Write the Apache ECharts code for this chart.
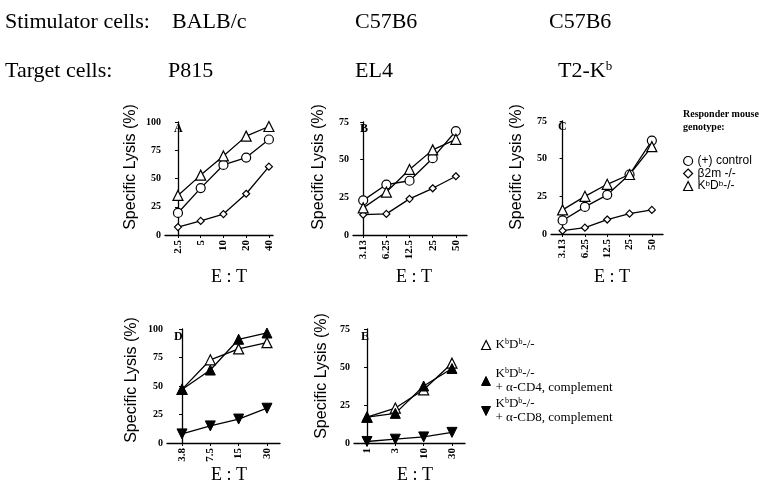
<!DOCTYPE html>
<html>
<head>
<meta charset="utf-8">
<script src="https://cdn.jsdelivr.net/npm/echarts@6/dist/echarts.min.js"></script>
<style>html,body{margin:0;padding:0;background:#fff}#c{width:759px;height:488px}</style>
</head>
<body>
<div id="c"></div>
<script>
// ---- data ----
const catsA = ['2.5', '5', '10', '20', '40'];
const ctrlA = [19.5, 41.5, 62, 68.5, 84.5];
const b2mA  = [7, 12.5, 18.5, 36.5, 60.5];
const kbdbA = [35, 53, 70, 87.5, 96];

const catsB = ['3.13', '6.25', '12.5', '25', '50'];
const ctrlB = [23, 33.5, 36, 51, 69];
const b2mB  = [13.5, 14, 24, 31, 39];
const kbdbB = [18, 28.5, 43.5, 56.5, 63.5];

const catsC = ['3.13', '6.25', '12.5', '25', '50'];
const ctrlC = [9, 18, 26, 39.5, 62];
const b2mC  = [2.2, 4.2, 9.6, 13.5, 16];
const kbdbC = [16, 25, 33, 39.5, 58];

const catsD = ['3.8', '7.5', '15', '30'];
const kbdbD = [47, 73, 82.5, 88];
const cd4D  = [47, 64, 91, 96.5];
const cd8D  = [8, 15, 21, 30.5];

const catsE = ['1', '3', '10', '30'];
const kbdbE = [17, 23, 35, 52.5];
const cd4E  = [17, 19.5, 37.5, 49];
const cd8E  = [1, 2.5, 4, 7];

const panelLetters = ['A', 'B', 'C', 'D', 'E'];

const NAME_CTRL = '(+) control';
const NAME_B2M = 'β2m -/-';
const NAME_KBDB = 'KbDb-/-';
const NAME_CD4 = 'KbDb-/-\n+ α-CD4, complement';
const NAME_CD8 = 'KbDb-/-\n+ α-CD8, complement';

// ---- layout (positions only) ----
const SERIF = "'Liberation Serif','Times New Roman',serif";
const SANS = "'Liberation Sans',Arial,sans-serif";
const layout = [
  {left: 165, top: 122, width: 108, height: 113, xmin: -0.57, xmax: 4.18, ymax: 100},
  {left: 353, top: 122, width: 114, height: 113, xmin: -0.44, xmax: 4.48, ymax: 75},
  {left: 551, top: 121, width: 112, height: 113, xmin: -0.52, xmax: 4.5, ymax: 75},
  {left: 167, top: 329, width: 113, height: 114, xmin: -0.53, xmax: 3.46, ymax: 100},
  {left: 354, top: 329, width: 111, height: 114, xmin: -0.46, xmax: 3.46, ymax: 75}
];
const panelCats = [catsA, catsB, catsC, catsD, catsE];
const panelSeries = [
  [[NAME_CTRL, ctrlA, 'ctrl'], [NAME_B2M, b2mA, 'b2m'], [NAME_KBDB, kbdbA, 'kbdb']],
  [[NAME_CTRL, ctrlB, 'ctrl'], [NAME_B2M, b2mB, 'b2m'], [NAME_KBDB, kbdbB, 'kbdb']],
  [[NAME_CTRL, ctrlC, 'ctrl'], [NAME_B2M, b2mC, 'b2m'], [NAME_KBDB, kbdbC, 'kbdb']],
  [[NAME_KBDB, kbdbD, 'kbdb'], [NAME_CD4, cd4D, 'cd4'], [NAME_CD8, cd8D, 'cd8']],
  [[NAME_KBDB, kbdbE, 'kbdb'], [NAME_CD4, cd4E, 'cd4'], [NAME_CD8, cd8E, 'cd8']]
];

const openStyle = {color: '#fff', borderColor: '#000', borderWidth: 1.2};
const fillStyle = {color: '#000', borderColor: '#000', borderWidth: 1};
const symbolDefs = {
  ctrl: {symbol: 'circle', symbolSize: 9, itemStyle: openStyle},
  b2m: {symbol: 'diamond', symbolSize: [7, 7], itemStyle: openStyle},
  kbdb: {symbol: 'triangle', symbolSize: 10, itemStyle: openStyle},
  cd4: {symbol: 'triangle', symbolSize: 10, itemStyle: fillStyle},
  cd8: {symbol: 'triangle', symbolSize: 10, symbolRotate: 180, itemStyle: fillStyle}
};

const grids = [], xAxes = [], yAxes = [], series = [];
layout.forEach((L, i) => {
  const cats = panelCats[i];
  const idx = cats.map((c, k) => k);
  grids.push({left: L.left, top: L.top, width: L.width, height: L.height, containLabel: false});
  xAxes.push({
    gridIndex: i, type: 'value', min: L.xmin, max: L.xmax,
    axisLine: {show: true, onZero: false, lineStyle: {color: '#000', width: 1.3}},
    axisTick: {show: true, length: 3, customValues: idx, lineStyle: {color: '#000', width: 1}},
    axisLabel: {customValues: idx, formatter: v => cats[Math.round(v)], rotate: 90, margin: 5,
      fontFamily: SERIF, fontWeight: 'bold', fontSize: 11, color: '#000'},
    splitLine: {show: false}
  });
  yAxes.push({
    gridIndex: i, type: 'value', min: 0, max: L.ymax, interval: 25,
    axisLine: {show: true, lineStyle: {color: '#000', width: 1.3}},
    axisTick: {show: true, length: 3, lineStyle: {color: '#000', width: 1}},
    axisLabel: {margin: 4, fontFamily: SERIF, fontWeight: 'bold', fontSize: 10, color: '#000'},
    splitLine: {show: false}
  });
  panelSeries[i].forEach(([name, vals, kind]) => {
    const s = symbolDefs[kind];
    series.push(Object.assign({
      type: 'line', name: name, xAxisIndex: i, yAxisIndex: i,
      data: vals.map((v, k) => [k, v]),
      lineStyle: {color: '#000', width: 1.3},
      showSymbol: true, animation: false, z: 3
    }, s));
  });
});

const supRich = {
  n: {fontFamily: SERIF, fontSize: 13, color: '#000', lineHeight: 14},
  s: {fontFamily: SERIF, fontSize: 8, color: '#000', lineHeight: 14, verticalAlign: 'top'},
  ns: {fontFamily: SANS, fontSize: 12, color: '#000', lineHeight: 12},
  ss: {fontFamily: SANS, fontSize: 8, color: '#000', lineHeight: 12, verticalAlign: 'top'}
};
function kbdbRich(n, s) { return '{' + n + '|K}{' + s + '|b}{' + n + '|D}{' + s + '|b}{' + n + '|-/-}'; }
function fmtTop(name) {
  if (name === NAME_KBDB) return kbdbRich('ns', 'ss');
  return '{ns|' + name + '}';
}
function fmtBottom(name) {
  const parts = name.split('\n');
  let out = kbdbRich('n', 's');
  if (parts.length > 1) out += '\n{n|' + parts[1] + '}';
  return out;
}
const downTri = 'path://M0,0 L10,0 L5,10 Z';
const legendBase = {orient: 'vertical', selectedMode: false, itemWidth: 9, itemHeight: 9, padding: 0};
const legends = [
  Object.assign({}, legendBase, {
    left: 683, top: 155, itemGap: 0.5,
    formatter: fmtTop, textStyle: {rich: supRich, lineHeight: 12},
    data: [
      {name: NAME_CTRL, icon: 'circle', itemStyle: openStyle},
      {name: NAME_B2M, icon: 'diamond', itemStyle: openStyle},
      {name: NAME_KBDB, icon: 'triangle', itemStyle: openStyle}
    ]
  }),
  Object.assign({}, legendBase, {
    left: 481, top: 338, formatter: fmtBottom, textStyle: {rich: supRich},
    data: [{name: NAME_KBDB, icon: 'triangle', itemStyle: openStyle}]
  }),
  Object.assign({}, legendBase, {
    left: 481, top: 367, formatter: fmtBottom, textStyle: {rich: supRich},
    data: [{name: NAME_CD4, icon: 'triangle', itemStyle: fillStyle}]
  }),
  Object.assign({}, legendBase, {
    left: 481, top: 397, formatter: fmtBottom, textStyle: {rich: supRich},
    data: [{name: NAME_CD8, icon: downTri, itemStyle: fillStyle}]
  })
];

// ---- texts ----
const graphics = [];
function txt(x, y, text, font, extra) {
  graphics.push(Object.assign({
    type: 'text', x: x, y: y,
    style: Object.assign({text: text, font: font, fill: '#000', textAlign: 'left', textVerticalAlign: 'middle'}, extra || {})
  }));
}
const hdrFont = "22px " + SERIF;
txt(5, 22, 'Stimulator cells:', hdrFont);
txt(172, 22, 'BALB/c', hdrFont);
txt(355, 22, 'C57B6', hdrFont);
txt(549, 22, 'C57B6', hdrFont);
txt(5, 71, 'Target cells:', hdrFont);
txt(168, 71, 'P815', hdrFont);
txt(355, 71, 'EL4', hdrFont);
graphics.push({type: 'text', x: 558, y: 71, style: {
  text: '{h|T2-K}{hs|b}', textVerticalAlign: 'middle',
  rich: {h: {font: hdrFont, fill: '#000', lineHeight: 22}, hs: {font: '13px ' + SERIF, fill: '#000', lineHeight: 22, verticalAlign: 'top'}}
}});
txt(683, 114, 'Responder mouse', "bold 10px " + SERIF);
txt(683, 127, 'genotype:', "bold 10px " + SERIF);

const letterPos = [[174, 129], [360, 129], [558, 127], [174, 337], [361, 337]];
letterPos.forEach((p, i) => txt(p[0], p[1], panelLetters[i], "bold 12px " + SERIF));

const yNamePos = [[131, 167], [319, 167], [517, 167], [132, 380], [322, 376]];
yNamePos.forEach(p => graphics.push({
  type: 'text', x: p[0], y: p[1], rotation: Math.PI / 2,
  style: {text: 'Specific Lysis (%)', font: "16px " + SANS, fill: '#000', textAlign: 'center', textVerticalAlign: 'middle'}
}));
const etPos = [[229, 277], [414, 277], [612, 277], [229, 475], [415, 475]];
etPos.forEach(p => txt(p[0], p[1], 'E : T', "18px " + SERIF, {textAlign: 'center'}));

const chart = echarts.init(document.getElementById('c'), null, {renderer: 'canvas'});
chart.setOption({
  backgroundColor: '#fff',
  animation: false,
  grid: grids, xAxis: xAxes, yAxis: yAxes, series: series,
  legend: legends,
  graphic: graphics
});
</script>
</body>
</html>
